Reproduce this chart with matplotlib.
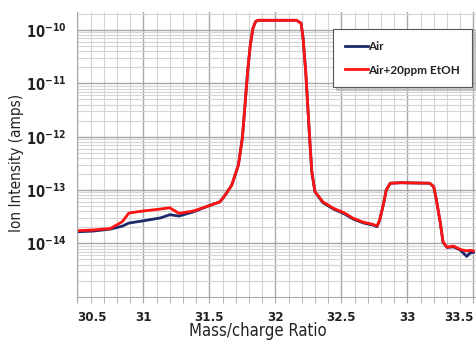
import matplotlib
matplotlib.use("Agg")
import matplotlib.pyplot as plt
from matplotlib.ticker import LogLocator, MultipleLocator, NullFormatter, FixedLocator

plt.rcParams['font.family'] = ['DejaVu Sans']
plt.rcParams['font.stretch'] = 'condensed'
plt.rcParams['mathtext.fontset'] = 'custom'
plt.rcParams['mathtext.rm'] = 'DejaVu Sans:stretch=condensed'

# datos (masa/carga, intensidad en amperios)
masa = [30.50, 30.62, 30.75, 30.84, 30.89, 31.00, 31.13, 31.20, 31.27, 31.38,
        31.48, 31.58, 31.62, 31.67, 31.72, 31.75, 31.77, 31.79, 31.81, 31.83,
        31.85, 31.87, 32.16, 32.195, 32.21, 32.23, 32.245, 32.26, 32.276, 32.30,
        32.33, 32.36, 32.44, 32.52, 32.59, 32.67, 32.74, 32.77, 32.79, 32.82,
        32.84, 32.87, 32.95, 33.17, 33.20, 33.22, 33.25, 33.27, 33.30, 33.35,
        33.40, 33.45, 33.475, 33.50]

aire = [1.65e-14, 1.70e-14, 1.85e-14, 2.10e-14, 2.40e-14, 2.65e-14, 3.00e-14, 3.45e-14, 3.25e-14, 3.90e-14,
        4.90e-14, 6.00e-14, 8.05e-14, 1.24e-13, 2.94e-13, 9.4e-13, 3.9e-12, 1.66e-11, 5.2e-11, 1.07e-10,
        1.44e-10, 1.52e-10, 1.52e-10, 1.34e-10, 7.0e-11, 1.66e-11, 3.9e-12, 9.3e-13, 2.2e-13, 9.3e-14,
        7.3e-14, 5.8e-14, 4.4e-14, 3.6e-14, 2.85e-14, 2.40e-14, 2.20e-14, 2.05e-14, 2.70e-14, 5.6e-14,
        1.0e-13, 1.34e-13, 1.37e-13, 1.34e-13, 1.15e-13, 6.5e-14, 2.4e-14, 1.05e-14, 8.4e-15, 8.6e-15,
        7.5e-15, 5.7e-15, 6.6e-15, 6.8e-15]

aire_etoh = [1.73e-14, 1.78e-14, 1.90e-14, 2.54e-14, 3.70e-14, 4.05e-14, 4.40e-14, 4.65e-14, 3.65e-14, 4.05e-14,
             4.90e-14, 6.00e-14, 8.05e-14, 1.24e-13, 2.94e-13, 9.4e-13, 3.9e-12, 1.66e-11, 5.2e-11, 1.07e-10,
             1.44e-10, 1.52e-10, 1.52e-10, 1.34e-10, 7.0e-11, 1.66e-11, 3.9e-12, 9.3e-13, 2.2e-13, 9.3e-14,
             7.5e-14, 6.0e-14, 4.54e-14, 3.75e-14, 2.95e-14, 2.48e-14, 2.27e-14, 2.11e-14, 2.74e-14, 5.6e-14,
             1.0e-13, 1.34e-13, 1.37e-13, 1.34e-13, 1.15e-13, 6.5e-14, 2.4e-14, 1.07e-14, 8.5e-15, 8.9e-15,
             7.7e-15, 7.2e-15, 7.4e-15, 7.2e-15]

ticks_x = [30.5, 31, 31.5, 32, 32.5, 33, 33.5]
etiquetas_x = ['30.5', '31', '31.5', '32', '32.5', '33', '33.5']

fig = plt.figure(figsize=(4.76, 3.45), dpi=100)
ax = fig.add_axes([0.1625, 0.14, 0.8375, 0.826])

ax.plot(masa, aire, color='#1c2a6b', lw=2.0, label='Air', solid_joinstyle='round')
ax.plot(masa, aire_etoh, color='#ff1414', lw=2.0, label='Air+20ppm EtOH', solid_joinstyle='round')

ax.set_yscale('log')
ax.set_ylim(1e-15, 2.2e-10)
ax.set_xlim(30.5, 33.52)

ax.yaxis.set_major_locator(FixedLocator([1e-14, 1e-13, 1e-12, 1e-11, 1e-10]))
ax.yaxis.set_minor_locator(LogLocator(base=10, subs=range(2, 10), numticks=20))
ax.yaxis.set_minor_formatter(NullFormatter())
ax.set_xticks(ticks_x)
ax.set_xticklabels(etiquetas_x)
ax.xaxis.set_minor_locator(MultipleLocator(0.1))

ax.grid(which='major', axis='both', color='#a8a8a8', lw=1.0)
ax.grid(which='minor', axis='both', color='#d4d4d4', lw=0.8)
ax.set_axisbelow(True)

for lado in ['top', 'right']:
    ax.spines[lado].set_visible(False)
for lado in ['left', 'bottom']:
    ax.spines[lado].set_color('#a8a8a8')

ax.tick_params(axis='y', which='both', length=0, labelsize=10.5, pad=8)
ax.tick_params(axis='x', which='both', direction='out', length=4, color='#a8a8a8', labelsize=9.5, pad=6)
for t in ax.get_yticklabels() + ax.get_xticklabels():
    t.set_color('#222222')
    t.set_fontweight('bold')
xl = ax.get_xticklabels()
xl[0].set_horizontalalignment('left')
xl[-1].set_horizontalalignment('right')

ax.set_xlabel('Mass/charge Ratio', fontsize=12, color='#222222')
ax.xaxis.set_label_coords(0.452, -0.09)
ax.xaxis.label.set_verticalalignment('top')
ax.set_ylabel('Ion Intensity (amps)', fontsize=11, color='#222222')
ax.yaxis.set_label_coords(-0.135, 0.47)

leg = ax.legend(loc='upper right', bbox_to_anchor=(0.99, 0.94), frameon=True,
                fancybox=False, shadow={'color': '#b0b0b0', 'alpha': 0.6},
                handlelength=2.0, handletextpad=0.0,
                borderpad=1.0, labelspacing=1.1, borderaxespad=0,
                prop={'family': ['Lato', 'DejaVu Sans'], 'weight': 'bold', 'size': 8.5, 'stretch': 'normal'})
leg.get_frame().set_edgecolor('#555555')
leg.get_frame().set_linewidth(0.8)
for t in leg.get_texts():
    t.set_color('#222222')

fig.savefig('out.png', dpi=100)
